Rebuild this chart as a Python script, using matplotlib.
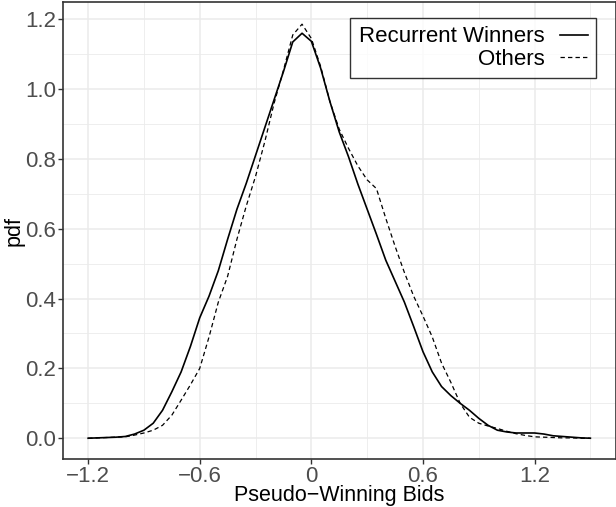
import matplotlib.pyplot as plt
import numpy as np

# values (step 0.05)
x_grid = [-1.2, -1.15, -1.1, -1.05, -1.0, -0.95, -0.9, -0.85, -0.8, -0.75, -0.7, -0.65,
          -0.6, -0.55, -0.5, -0.45, -0.4, -0.35, -0.3, -0.25, -0.2, -0.15, -0.1, -0.05,
          0.0, 0.05, 0.1, 0.15, 0.2, 0.25, 0.3, 0.35, 0.4, 0.45, 0.5, 0.55, 0.6, 0.65,
          0.7, 0.75, 0.8, 0.85, 0.9, 0.95, 1.0, 1.05, 1.1, 1.15, 1.2, 1.25, 1.3, 1.35,
          1.4, 1.45, 1.5]
y_rw = [0.0, 0.001, 0.002, 0.003, 0.005, 0.012, 0.023, 0.043, 0.08, 0.133, 0.19, 0.263,
        0.345, 0.407, 0.48, 0.57, 0.656, 0.73, 0.81, 0.89, 0.97, 1.05, 1.135, 1.16,
        1.137, 1.06, 0.964, 0.877, 0.806, 0.728, 0.656, 0.584, 0.51, 0.45, 0.39, 0.32,
        0.248, 0.19, 0.148, 0.122, 0.10, 0.08, 0.057, 0.037, 0.023, 0.018, 0.015, 0.015,
        0.015, 0.012, 0.007, 0.005, 0.003, 0.001, 0.0]
y_ot = [0.0, 0.001, 0.002, 0.003, 0.004, 0.009, 0.015, 0.023, 0.037, 0.066, 0.109, 0.153,
        0.20, 0.29, 0.39, 0.464, 0.57, 0.665, 0.75, 0.85, 0.96, 1.054, 1.155, 1.186,
        1.145, 1.065, 0.964, 0.885, 0.83, 0.78, 0.74, 0.715, 0.63, 0.55, 0.475, 0.407,
        0.35, 0.29, 0.215, 0.16, 0.10, 0.06, 0.043, 0.035, 0.028, 0.02, 0.013, 0.008,
        0.004, 0.003, 0.002, 0.001, 0.001, 0.0, 0.0]

xticks = [-1.2, -0.6, 0, 0.6, 1.2]
xtick_labels = ['\u22121.2', '\u22120.6', '0', '0.6', '1.2']
yticks = [0.0, 0.2, 0.4, 0.6, 0.8, 1.0, 1.2]

plt.rcParams['font.family'] = ['Liberation Sans', 'DejaVu Sans']

fig = plt.figure(figsize=(6.16, 5.07), dpi=100)
ax = fig.add_axes([63 / 616, 48 / 507, 552.5 / 616, 457 / 507])

ax.plot(x_grid, y_rw, color='black', lw=1.2, label='Recurrent Winners',
        solid_joinstyle='round')
ax.plot(x_grid, y_ot, color='black', lw=0.9, ls=(0, (3.5, 2.5)), label='Others')

ax.set_xlim(-1.335, 1.635)
ax.set_ylim(-0.0595, 1.2495)
ax.set_xticks(xticks)
ax.set_xticklabels(xtick_labels)
ax.set_yticks(yticks)
ax.set_yticklabels(['%.1f' % v for v in yticks])
ax.set_xticks([-0.9, -0.3, 0.3, 0.9, 1.5], minor=True)
ax.set_yticks([0.1, 0.3, 0.5, 0.7, 0.9, 1.1], minor=True)
ax.grid(True, which='major', color='#EBEBEB', lw=1.1)
ax.grid(True, which='minor', color='#EBEBEB', lw=0.6)
ax.set_axisbelow(True)
ax.tick_params(which='major', length=3.5, width=1, color='#333333',
               labelsize=16, labelcolor='#4D4D4D', pad=1.5)
ax.tick_params(which='minor', length=0)
for s in ax.spines.values():
    s.set_color('#333333')
    s.set_linewidth(1.2)

ax.set_xlabel('Pseudo\u2212Winning Bids', fontsize=15.5, labelpad=-1.5)
ax.set_ylabel('pdf', fontsize=15.5, labelpad=0)

leg = ax.legend(loc='upper right', bbox_to_anchor=(0.965, 0.965), fontsize=16,
                markerfirst=False, frameon=True, fancybox=False,
                handlelength=1.25, handletextpad=0.7, borderpad=0.38,
                labelspacing=0.05, borderaxespad=0)
leg.get_frame().set_edgecolor('black')
leg.get_frame().set_linewidth(1.0)
for t in leg.get_texts():
    t.set_ha('right')
leg._legend_box.align = 'right'

fig.savefig('out.png', dpi=100)
